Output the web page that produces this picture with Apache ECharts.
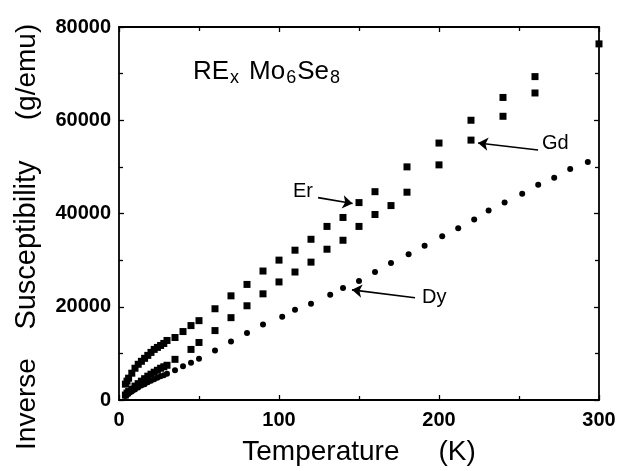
<!DOCTYPE html>
<html><head><meta charset="utf-8">
<script src="https://cdn.jsdelivr.net/npm/echarts/dist/echarts.min.js"></script>
<style>html,body{margin:0;padding:0;background:#fff}#c{width:623px;height:471px}</style>
</head><body><div id="c"></div>
<script>
const erT = [4,5,6,8,10,12,14,16,18,20,22,24,26,28,30,35,40,45,50,60,70,80,90,100,110,120,130,140,150,160,180,200,220,240,260];
const erV = [3400,4040,4680,5750,6810,7660,8300,8940,9570,10210,10850,11280,11700,12130,12770,13400,14680,15960,17020,19570,22340,24790,27660,30000,32130,34470,37230,39150,42340,44680,50000,55110,60000,64890,69360];
const gdT = [4,5,6,8,10,12,14,16,18,20,22,24,26,28,30,35,45,50,60,70,80,90,100,110,120,130,140,150,160,170,180,200,220,240,260,300];
const gdV = [1060,1490,1810,2340,2980,3510,4040,4570,5110,5530,5960,6380,6810,7130,7450,8720,10850,12340,14890,17660,20210,22770,25320,27450,29570,32340,34260,37230,39790,41700,44570,50430,55740,60850,65850,76380];
const dyT = [4,5,6,8,10,12,14,16,18,20,22,24,26,28,30,35,40,45,50,60,70,80,90,102,110,120,132,140,150,160,170,181,191,202,212,222,231,241,252,262,272,282,293];
const dyV = [850,1170,1380,1810,2230,2660,3090,3400,3830,4150,4470,4790,5110,5320,5640,6380,7230,7980,8830,10640,12550,14360,16170,17870,19360,20640,22550,24040,25530,27450,29360,31280,33090,35110,36810,38720,40640,42340,44260,46170,47660,49570,51060];
// annotation arrows in data coordinates: [fromT, fromV, toT, toV]
const arrowEr = [124.4, 43400, 146, 42130];
const arrowGd = [261.9, 53620, 224.4, 55110];
const arrowDy = [185, 21920, 145.6, 23620];
const xLabelVals = [0,100,200,300];
const yLabelVals = [0,20000,40000,60000,80000];

const zip = (a,b) => a.map((t,i)=>[t,b[i]]);
const ink = '#000';
const fontFam = '"Liberation Sans", Arial, Helvetica, sans-serif';

function axisCommon(showLabel){
  return {
    axisLine:{show:true, onZero:false, lineStyle:{color:ink, width:1.8}},
    axisTick:{show:true, inside:true, length:5, lineStyle:{color:ink, width:1.3}},
    minorTick:{show:true, splitNumber:2, length:4, lineStyle:{color:ink, width:1.3}},
    splitLine:{show:false},
    axisLabel:{show:showLabel, color:ink, fontFamily:fontFam, fontSize:20}
  };
}

const chart = echarts.init(document.getElementById('c'), null, {renderer:'canvas'});
const option = {
  animation:false,
  backgroundColor:'#fff',
  grid:{left:119, right:24, top:27, bottom:69, containLabel:false},
  xAxis:[
    Object.assign(axisCommon(true), {type:'value', min:0, max:300, interval:100, position:'bottom',
      name:'Temperature     (K)', nameLocation:'middle', nameGap:38,
      nameTextStyle:{color:ink, fontFamily:fontFam, fontSize:28},
      axisLabel:{show:true, color:ink, fontFamily:fontFam, fontSize:20, fontWeight:'bold', margin:10,
        formatter:v => xLabelVals.includes(v) ? String(v) : ''}}),
    Object.assign(axisCommon(false), {type:'value', min:0, max:300, interval:100, position:'top'})
  ],
  yAxis:[
    Object.assign(axisCommon(true), {type:'value', min:0, max:80000, interval:20000, position:'left',
      axisLabel:{show:true, color:ink, fontFamily:fontFam, fontSize:20, fontWeight:'bold', margin:8,
        formatter:v => yLabelVals.includes(v) ? String(v) : ''}}),
    Object.assign(axisCommon(false), {type:'value', min:0, max:80000, interval:20000, position:'right'})
  ],
  series:[
    {name:'Er', type:'scatter', symbol:'rect', symbolSize:7, data:zip(erT,erV), itemStyle:{color:ink, opacity:1}},
    {name:'Gd', type:'scatter', symbol:'rect', symbolSize:7, data:zip(gdT,gdV), itemStyle:{color:ink, opacity:1}},
    {name:'Dy', type:'scatter', symbol:'circle', symbolSize:6, data:zip(dyT,dyV), itemStyle:{color:ink, opacity:1}},
    {name:'arrows', type:'scatter', data:[], silent:true,
      markLine:{silent:true, symbol:['none','arrow'], symbolSize:10, label:{show:false},
        lineStyle:{color:ink, width:1.6, type:'solid'},
        emphasis:{disabled:true},
        data:[arrowEr, arrowGd, arrowDy].map(a => [{coord:[a[0],a[1]]},{coord:[a[2],a[3]]}])}}
  ],
  graphic:[
    {type:'text', x:27, y:404, rotation:Math.PI/2, style:{text:'Inverse', fill:ink, font:'28px '+fontFam, textAlign:'center', textVerticalAlign:'middle'}},
    {type:'text', x:27, y:245, rotation:Math.PI/2, style:{text:'Susceptibility', fill:ink, font:'29px '+fontFam, textAlign:'center', textVerticalAlign:'middle'}},
    {type:'text', x:27, y:72, rotation:Math.PI/2, style:{text:'(g/emu)', fill:ink, font:'28px '+fontFam, textAlign:'center', textVerticalAlign:'middle'}},
    {type:'text', x:193, y:57, style:{
      text:'{m|RE}{sx|x}{m|Mo}{s|6}{m|Se}{s|8}', fill:ink, textVerticalAlign:'top',
      rich:{
        m:{fontSize:26, fontFamily:fontFam, lineHeight:30, fill:ink, verticalAlign:'middle'},
        sx:{fontSize:18, fontFamily:fontFam, lineHeight:18, fill:ink, verticalAlign:'bottom', padding:[0,10,0,1]},
        s:{fontSize:18, fontFamily:fontFam, lineHeight:18, fill:ink, verticalAlign:'bottom', padding:[0,1,0,1]}
      }}},
    {type:'text', x:293, y:191, style:{text:'Er', fill:ink, font:'20px '+fontFam, textAlign:'left', textVerticalAlign:'middle'}},
    {type:'text', x:542, y:143, style:{text:'Gd', fill:ink, font:'20px '+fontFam, textAlign:'left', textVerticalAlign:'middle'}},
    {type:'text', x:422, y:297, style:{text:'Dy', fill:ink, font:'20px '+fontFam, textAlign:'left', textVerticalAlign:'middle'}}
  ]
};
chart.setOption(option);
</script>
</body></html>
